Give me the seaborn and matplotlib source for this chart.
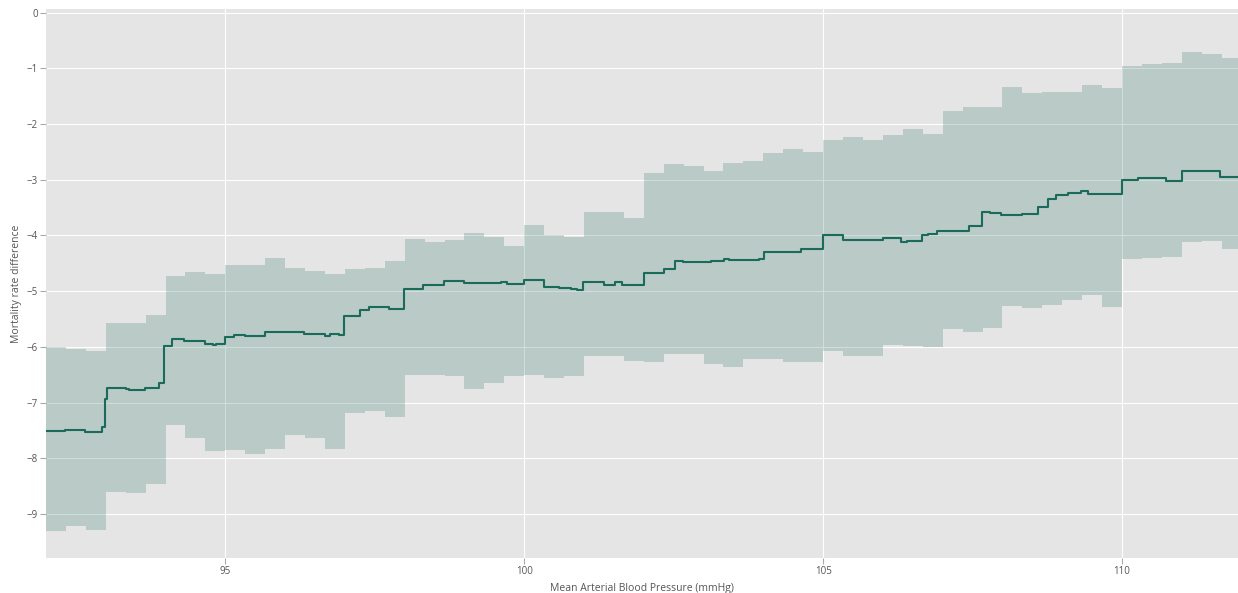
import numpy as np
import pandas as pd
import matplotlib
matplotlib.use("Agg")
import matplotlib.pyplot as plt
import seaborn as sns

# ---- data ----
band_x = [92.0, 92.333, 92.667, 93.0, 93.333, 93.667, 94.0, 94.333, 94.667, 95.0,
          95.333, 95.667, 96.0, 96.333, 96.667, 97.0, 97.333, 97.667, 98.0, 98.333,
          98.667, 99.0, 99.333, 99.667, 100.0, 100.333, 100.667, 101.0, 101.333, 101.667,
          102.0, 102.333, 102.667, 103.0, 103.333, 103.667, 104.0, 104.333, 104.667, 105.0,
          105.333, 105.667, 106.0, 106.333, 106.667, 107.0, 107.333, 107.667, 108.0, 108.333,
          108.667, 109.0, 109.333, 109.667, 110.0, 110.333, 110.667, 111.0, 111.333, 111.667,
          112.0]
band_upper = [-6.00, -6.04, -6.07, -5.57, -5.58, -5.42, -4.72, -4.65, -4.69, -4.53,
              -4.53, -4.41, -4.58, -4.63, -4.70, -4.61, -4.59, -4.45, -4.07, -4.12,
              -4.08, -3.95, -4.03, -4.19, -3.82, -4.00, -4.02, -3.58, -3.57, -3.68,
              -2.87, -2.72, -2.75, -2.84, -2.69, -2.67, -2.52, -2.45, -2.51, -2.29,
              -2.23, -2.29, -2.20, -2.09, -2.18, -1.77, -1.70, -1.69, -1.34, -1.44,
              -1.42, -1.42, -1.29, -1.36, -0.95, -0.93, -0.91, -0.70, -0.74, -0.81]
band_lower = [-9.31, -9.22, -9.29, -8.61, -8.62, -8.46, -7.40, -7.63, -7.87, -7.85,
              -7.92, -7.84, -7.59, -7.63, -7.84, -7.19, -7.15, -7.26, -6.50, -6.50,
              -6.52, -6.76, -6.65, -6.52, -6.50, -6.56, -6.52, -6.17, -6.17, -6.25,
              -6.27, -6.12, -6.12, -6.31, -6.37, -6.21, -6.21, -6.27, -6.27, -6.07,
              -6.16, -6.17, -5.97, -5.98, -6.01, -5.67, -5.73, -5.66, -5.27, -5.31,
              -5.24, -5.15, -5.07, -5.29, -4.43, -4.40, -4.39, -4.12, -4.10, -4.24]

line_x = [92.0, 92.32, 92.66, 92.94, 92.98, 93.02, 93.33, 93.39, 93.66, 93.89,
          93.98, 94.11, 94.31, 94.66, 94.80, 94.85, 94.99, 95.15, 95.33, 95.67,
          96.13, 96.21, 96.32, 96.67, 96.75, 96.90, 96.99, 97.25, 97.40, 97.73,
          97.99, 98.30, 98.66, 99.00, 99.61, 99.72, 100.00, 100.33, 100.58, 100.78,
          100.89, 100.99, 101.34, 101.52, 101.64, 102.00, 102.34, 102.52, 102.66, 103.12,
          103.34, 103.42, 103.93, 104.01, 104.63, 105.00, 105.33, 105.66, 106.00, 106.31,
          106.40, 106.66, 106.75, 106.90, 107.44, 107.65, 107.79, 107.98, 108.32, 108.59,
          108.77, 108.90, 109.10, 109.31, 109.43, 110.00, 110.26, 110.73, 111.00, 111.64,
          112.0]
line_y = [-7.51, -7.49, -7.53, -7.44, -6.94, -6.74, -6.75, -6.77, -6.74, -6.64,
          -5.98, -5.85, -5.89, -5.94, -5.96, -5.94, -5.82, -5.79, -5.81, -5.73,
          -5.74, -5.73, -5.76, -5.81, -5.76, -5.79, -5.44, -5.33, -5.29, -5.32,
          -4.96, -4.88, -4.82, -4.85, -4.83, -4.87, -4.80, -4.92, -4.94, -4.96,
          -4.98, -4.84, -4.88, -4.83, -4.88, -4.67, -4.61, -4.45, -4.48, -4.46,
          -4.42, -4.44, -4.42, -4.30, -4.24, -4.00, -4.09, -4.08, -4.05, -4.12,
          -4.10, -3.99, -3.97, -3.92, -3.83, -3.57, -3.60, -3.63, -3.61, -3.48,
          -3.34, -3.28, -3.24, -3.21, -3.26, -3.00, -2.97, -3.03, -2.85, -2.95,
          -2.95]

x_ticks = [95, 100, 105, 110]
y_ticks = [0, -1, -2, -3, -4, -5, -6, -7, -8, -9]
x_label = "Mean Arterial Blood Pressure (mmHg)"
y_label = "Mortality rate difference"

# ---- style ----
sns.set_style("darkgrid", {"axes.facecolor": "#E5E5E5", "grid.color": "white"})
plt.rcParams["font.family"] = ["Open Sans", "DejaVu Sans"]

fig = plt.figure(figsize=(12.38, 5.93), dpi=100)
ax = fig.add_axes([46 / 1238, 1 - 558 / 593, 1 - 46 / 1238, (558 - 9) / 593])

upper_ext = band_upper + [band_upper[-1]]
lower_ext = band_lower + [band_lower[-1]]
ax.fill_between(band_x, lower_ext, upper_ext, step="post",
                color="#1B6B5A", alpha=0.215, linewidth=0, zorder=2)

df = pd.DataFrame({"x": line_x, "y": line_y})
sns.lineplot(data=df, x="x", y="y", ax=ax, drawstyle="steps-post",
             color="#1B6B5A", linewidth=1.5, zorder=3)

ax.set_xlim(92.0, 111.94)
ax.set_ylim(-9.79, 0.066)
ax.set_xticks(x_ticks)
ax.set_yticks(y_ticks)
ax.grid(True, color="white", linewidth=0.8)
ax.set_axisbelow(True)
for s in ax.spines.values():
    s.set_visible(False)

ax.tick_params(axis="both", which="both", length=4, width=0.8, color="#AAAAAA",
               labelsize=7, labelcolor="#555555", pad=2, direction="out",
               bottom=True, left=True)
ax.set_xlabel(x_label, fontsize=7.5, color="#555555", labelpad=4)
ax.set_ylabel(y_label, fontsize=7.5, color="#555555", labelpad=3)

fig.savefig("out.png", dpi=100, facecolor="white")
